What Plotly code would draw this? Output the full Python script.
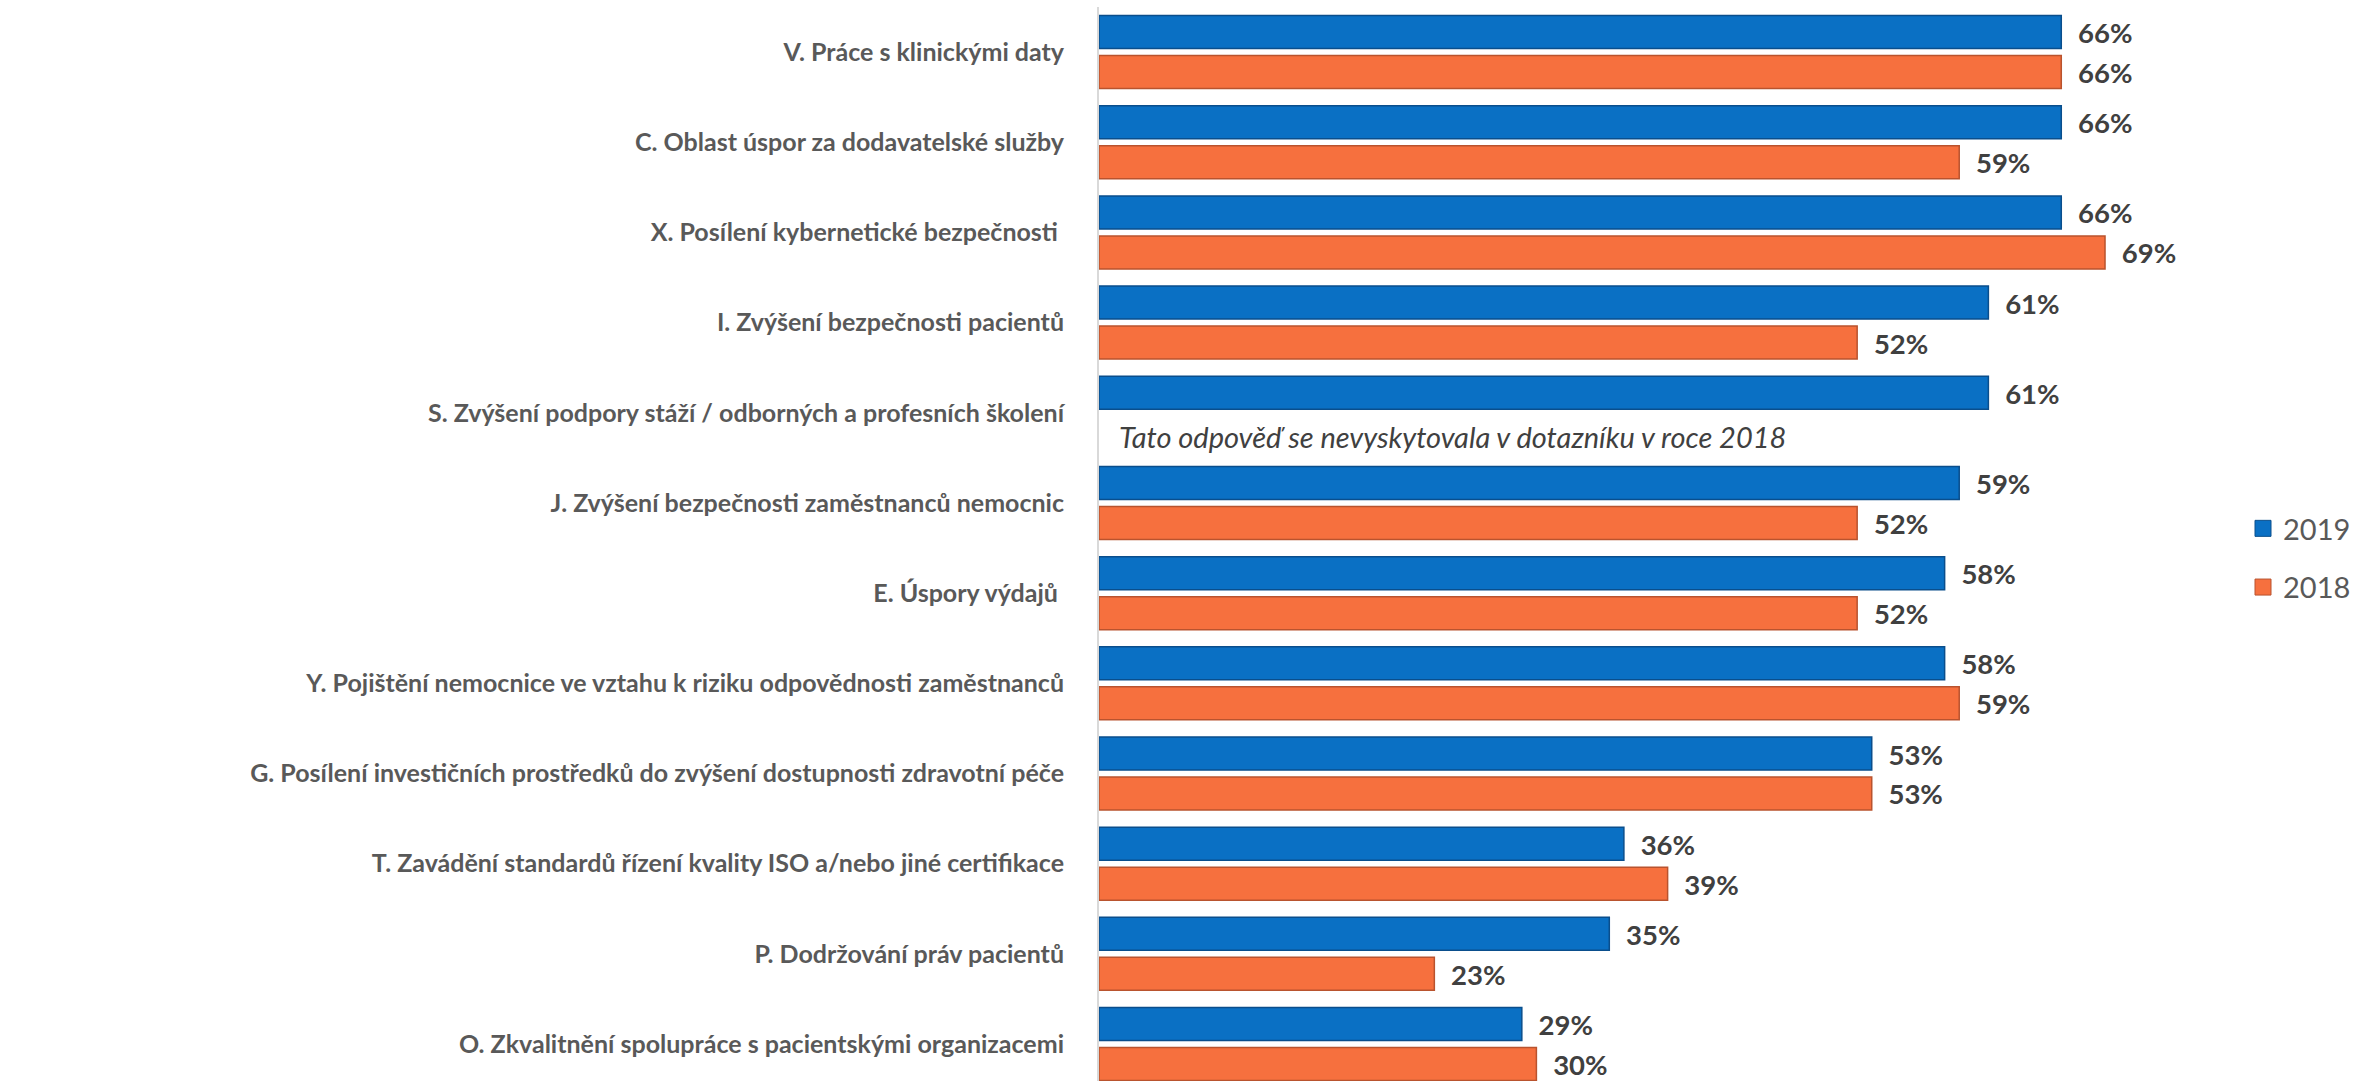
import plotly.graph_objects as go

categories = [
    "V. Práce s klinickými daty",
    "C. Oblast úspor za dodavatelské služby",
    "X. Posílení kybernetické bezpečnosti\u00a0",
    "I. Zvýšení bezpečnosti pacientů",
    "S. Zvýšení podpory stáží / odborných a profesních školení",
    "J. Zvýšení bezpečnosti zaměstnanců nemocnic",
    "E. Úspory výdajů\u00a0",
    "Y. Pojištění nemocnice ve vztahu k riziku odpovědnosti zaměstnanců",
    "G. Posílení investičních prostředků do zvýšení dostupnosti zdravotní péče",
    "T. Zavádění standardů řízení kvality ISO a/nebo jiné certifikace",
    "P. Dodržování práv pacientů",
    "O. Zkvalitnění spolupráce s pacientskými organizacemi",
]
values_2019 = [66, 66, 66, 61, 61, 59, 58, 58, 53, 36, 35, 29]
values_2018 = [66, 59, 69, 52, None, 52, 52, 59, 53, 39, 23, 30]
series_names = ["2019", "2018"]
note_text = "Tato odpověď se nevyskytovala v dotazníku v roce 2018"
note_category = "S. Zvýšení podpory stáží / odborných a profesních školení"

W, H = 2362, 1081
L, R, T, B = 1099, 162, 7, 0
px_per_pct = 14.58
plot_w = W - L - R
x_max = plot_w / px_per_pct

BLUE = "#0A70C4"
BLUE_EDGE = "#0A4E8C"
ORANGE = "#F6703E"
ORANGE_EDGE = "#B9532E"
FONT = "Lato"

fig = go.Figure()

def lbl(vals):
    return ["\u2002" + f"{v}%" if v is not None else "" for v in vals]

for name, vals, col, edge in [
    (series_names[0], values_2019, BLUE, BLUE_EDGE),
    (series_names[1], values_2018, ORANGE, ORANGE_EDGE),
]:
    fig.add_trace(go.Bar(
        y=categories, x=vals, orientation="h", name=name,
        marker=dict(color=col, line=dict(color=edge, width=1.5)),
        text=lbl(vals), textposition="outside", cliponaxis=False,
        textfont=dict(family=FONT, size=30, color="#404040", weight="bold"),
        showlegend=False, hoverinfo="skip",
    ))

# legend-only entries with larger square symbols
for name, col, edge in [
    (series_names[0], BLUE, BLUE_EDGE),
    (series_names[1], ORANGE, ORANGE_EDGE),
]:
    fig.add_trace(go.Scatter(
        x=[None], y=[None], mode="markers", name=name,
        legendgroup=name,
        marker=dict(symbol="square", size=22, color=col, line=dict(color=edge, width=1)),
    ))

fig.add_annotation(
    x=0, y=note_category, xref="x", yref="y",
    text=note_text, showarrow=False, xanchor="left", yanchor="middle",
    xshift=18, yshift=-24,
    font=dict(family=FONT, size=29, color="#404040", style="italic"),
)

n = len(categories)
fig.update_layout(
    width=W, height=H,
    margin=dict(l=L, r=R, t=T, b=B, pad=0),
    paper_bgcolor="white", plot_bgcolor="white",
    barmode="group", bargap=0.113, bargroupgap=0.175,
    xaxis=dict(range=[0, x_max], showgrid=False, zeroline=False,
               showticklabels=False, showline=False, ticks=""),
    yaxis=dict(categoryorder="array", categoryarray=categories,
               range=[n - 1 + 0.41, -0.5], showgrid=False, zeroline=False,
               showline=True, linecolor="#D9D9D9", linewidth=2, ticks="",
               ticklabelstandoff=28,
               tickfont=dict(family=FONT, size=25, color="#595959", weight="bold")),
    legend=dict(x=(2243 - L) / plot_w, xanchor="left", y=1 - (558 - T) / (H - T - B),
                yanchor="middle", traceorder="grouped", tracegroupgap=18,
                font=dict(family=FONT, size=29, color="#595959"),
                bgcolor="rgba(0,0,0,0)", itemsizing="trace"),
    showlegend=True,
)

fig.write_html(
    "out.html",
    config={"displayModeBar": False},
    post_script="document.body.style.margin='0';document.body.style.overflow='hidden';",
)
